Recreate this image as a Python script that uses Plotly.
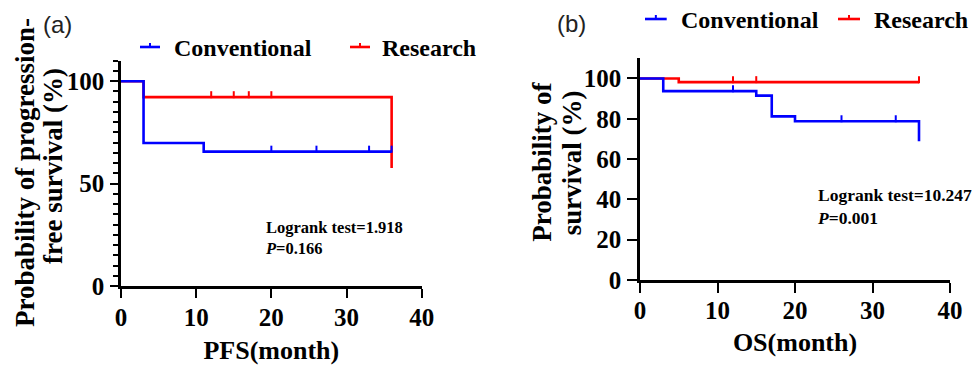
import plotly.graph_objects as go

# ---------------- data ----------------
pfs_conv_t = [0, 3, 11, 36]
pfs_conv_s = [100, 69.8, 65.6, 65.6]
pfs_conv_censor = [20, 26, 33, 36]

pfs_res_t = [0, 3, 36]
pfs_res_s = [100, 92.2, 57.6]
pfs_res_censor = [12, 15, 17, 20]

os_conv_t = [0, 3, 15, 17, 20, 36]
os_conv_s = [100, 93.7, 91.5, 81.2, 78.8, 68.8]
os_conv_censor = [12, 26, 33]

os_res_t = [0, 5, 36]
os_res_s = [100, 98.2, 98.2]
os_res_censor = [12, 15, 36]

series_names = ["Conventional", "Research"]
x_ticks = [0, 10, 20, 30, 40]
pfs_y_ticks = [0, 50, 100]
os_y_ticks = [0, 20, 40, 60, 80, 100]

BLUE = "#0000FF"
RED = "#FF0000"
W, H = 977, 370
SERIF = "Liberation Serif"


def surv_at(t, times, surv):
    val = surv[0]
    for ti, si in zip(times, surv):
        if ti <= t:
            val = si
    return val


def px(x):
    return x / W


def py(y):
    return 1 - y / H


def bold(vals):
    return ["<b>%s</b>" % v for v in vals]


fig = go.Figure()


def add_km(times, surv, censor, color, xa, ya, off):
    fig.add_trace(go.Scatter(x=times, y=surv, mode="lines", line=dict(color=color, width=2.6, shape="hv"),
                             xaxis=xa, yaxis=ya, showlegend=False, hoverinfo="skip"))
    fig.add_trace(go.Scatter(x=censor, y=[surv_at(c, times, surv) + off for c in censor], mode="markers",
                             marker=dict(symbol="line-ns", size=5, line=dict(color=color, width=2)),
                             xaxis=xa, yaxis=ya, showlegend=False, hoverinfo="skip", cliponaxis=False))


# panel (a): red first, blue on top
add_km(pfs_res_t, pfs_res_s, pfs_res_censor, RED, "x", "y", 1.2)
add_km(pfs_conv_t, pfs_conv_s, pfs_conv_censor, BLUE, "x", "y", 1.2)
# panel (b)
add_km(os_res_t, os_res_s, os_res_censor, RED, "x2", "y2", 1.2)
add_km(os_conv_t, os_conv_s, os_conv_censor, BLUE, "x2", "y2", 1.2)

axis_common = dict(showgrid=False, zeroline=False, showline=True, linecolor="black", linewidth=2.6,
                   ticks="outside", tickcolor="black", tickwidth=2.2, automargin=False)


def tf(size):
    return dict(family=SERIF, size=size, color="black", weight="bold")


def tickf(size):
    return dict(family=SERIF, size=size, color="black")


fig.update_layout(
    template="none",
    font=dict(family=SERIF, color="black"),
    width=W, height=H, margin=dict(l=0, r=0, t=0, b=0, pad=0),
    plot_bgcolor="white", paper_bgcolor="white",
    xaxis=dict(domain=[px(121), px(421.7)], range=[0, 40], tickvals=x_ticks, ticktext=bold(x_ticks), ticklen=9,
               tickfont=tickf(25), anchor="y", ticklabelstandoff=-2,
               title=dict(text="PFS(month)", font=tf(26), standoff=12),
               **axis_common),
    yaxis=dict(domain=[py(286), py(60.7)], range=[0, 110], tickvals=pfs_y_ticks, ticktext=bold(pfs_y_ticks),
               ticklen=8,
               minor=dict(dtick=5, tick0=0, ticklen=5, tickwidth=2, tickcolor="black", ticks="outside"),
               tickfont=tickf(25), anchor="x", ticklabelstandoff=1,
               **axis_common),
    xaxis2=dict(domain=[px(640), px(950)], range=[0, 40], tickvals=x_ticks, ticktext=bold(x_ticks), ticklen=10,
                tickfont=tickf(25), anchor="y2", ticklabelstandoff=-4,
                title=dict(text="OS(month)", font=tf(26), standoff=11),
                **axis_common),
    yaxis2=dict(domain=[py(280), py(58.3)], range=[0, 110], tickvals=os_y_ticks, ticktext=bold(os_y_ticks),
                ticklen=10,
                tickfont=tickf(25), anchor="x2", ticklabelstandoff=1,
                **axis_common),
)

ann = []
# y-axis titles as two rotated lines
ann.append(dict(text="Probability of progression-", x=px(25), y=py(173), textangle=-90))
ann.append(dict(text="free survival (%)", x=px(53), y=py(166), textangle=-90))
ann.append(dict(text="Probability of", x=px(541.7), y=py(162), textangle=-90))
ann.append(dict(text="survival (%)", x=px(571.7), y=py(162.5), textangle=-90))
for a in ann:
    a.update(xref="paper", yref="paper", showarrow=False, xanchor="center", yanchor="middle",
             font=tf(27))

# statistics text
ann.append(dict(text="<b>Logrank test=1.918</b><br><b><i>P</i>=0.166</b>", x=px(263), y=py(238),
                xref="paper", yref="paper", showarrow=False, xanchor="left", yanchor="middle", align="left",
                font=dict(family=SERIF, size=16.5, color="black")))
ann.append(dict(text="<b>Logrank test=10.247</b><br><b><i>P</i>=0.001</b>", x=px(815), y=py(206),
                xref="paper", yref="paper", showarrow=False, xanchor="left", yanchor="middle", align="left",
                font=dict(family=SERIF, size=17.5, color="black")))

# panel labels
ann.append(dict(text="(a)", x=px(57), y=py(25), xref="paper", yref="paper", showarrow=False,
                xanchor="center", yanchor="middle", font=dict(family="Liberation Sans", size=24, color="#222")))
ann.append(dict(text="(b)", x=px(571.7), y=py(23), xref="paper", yref="paper", showarrow=False,
                xanchor="center", yanchor="middle", font=dict(family="Liberation Sans", size=24, color="#222")))

# legends (symbol line with a censor tick + label)
shapes = []
legend_items = [
    (series_names[0], BLUE, 140, 160, 47, 172),
    (series_names[1], RED, 350, 370, 47, 380),
    (series_names[0], BLUE, 645, 666.7, 19, 679),
    (series_names[1], RED, 838, 860, 19, 872),
]
for name, col, x0, x1, yc, xt in legend_items:
    shapes.append(dict(type="line", xref="paper", yref="paper", x0=px(x0), x1=px(x1), y0=py(yc), y1=py(yc),
                       line=dict(color=col, width=2.6)))
    xm = (x0 + x1) / 2
    shapes.append(dict(type="line", xref="paper", yref="paper", x0=px(xm), x1=px(xm), y0=py(yc), y1=py(yc - 4),
                       line=dict(color=col, width=2)))
    ann.append(dict(text=name, x=px(xt), y=py(yc + 1), xref="paper", yref="paper", showarrow=False,
                    xanchor="left", yanchor="middle", font=tf(24)))

fig.update_layout(annotations=ann, shapes=shapes)
fig.write_html("out.html", config={"displayModeBar": False},
               post_script="document.body.style.margin='0';document.body.style.overflow='hidden';")
